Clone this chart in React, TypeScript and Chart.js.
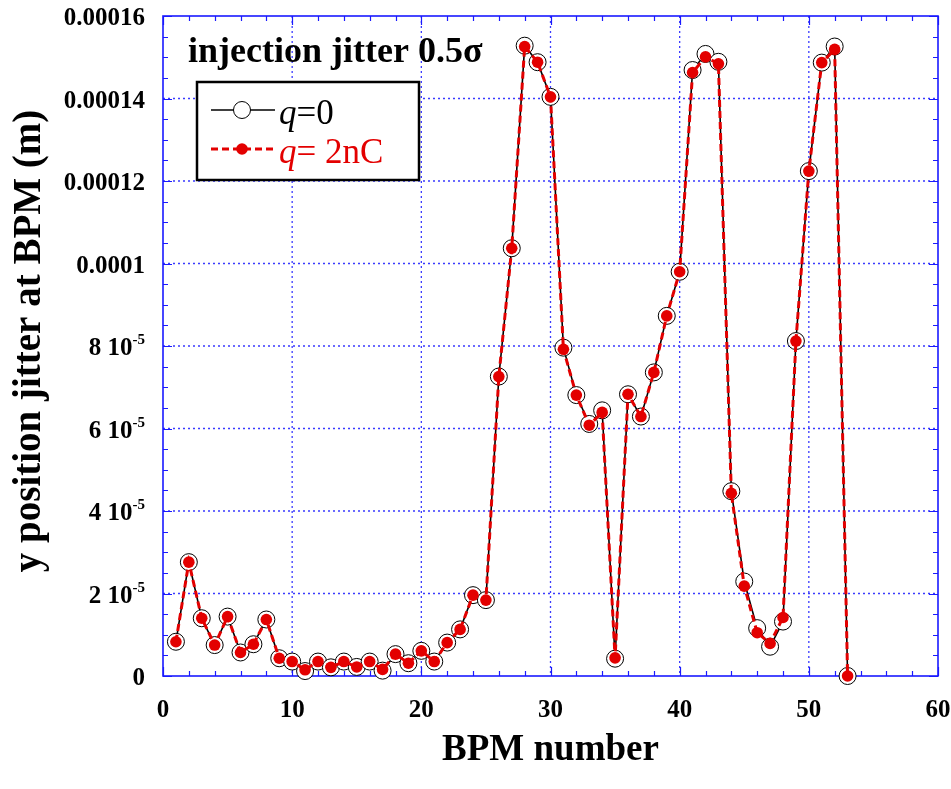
import React, { useEffect, useRef } from 'react';
import { Chart, registerables } from 'chart.js';
Chart.register(...registerables);

// BPM index
const bpm = [
  1, 2, 3, 4, 5, 6, 7, 8, 9, 10, 11, 12, 13, 14, 15, 16, 17, 18, 19, 20,
  21, 22, 23, 24, 25, 26, 27, 28, 29, 30, 31, 32, 33, 34, 35, 36, 37, 38, 39, 40,
  41, 42, 43, 44, 45, 46, 47, 48, 49, 50, 51, 52, 53,
];

// y position jitter (m), q = 0
const jitterQ0 = [
  0.83e-5, 2.76e-5, 1.40e-5, 0.75e-5, 1.44e-5, 0.57e-5, 0.77e-5, 1.37e-5, 0.43e-5, 0.35e-5,
  0.12e-5, 0.35e-5, 0.21e-5, 0.35e-5, 0.22e-5, 0.35e-5, 0.13e-5, 0.53e-5, 0.31e-5, 0.61e-5,
  0.35e-5, 0.81e-5, 1.13e-5, 1.96e-5, 1.84e-5, 7.26e-5, 10.37e-5, 15.28e-5, 14.88e-5, 14.04e-5,
  7.96e-5, 6.81e-5, 6.11e-5, 6.44e-5, 0.42e-5, 6.83e-5, 6.29e-5, 7.36e-5, 8.73e-5, 9.80e-5,
  14.69e-5, 15.08e-5, 14.89e-5, 4.48e-5, 2.29e-5, 1.16e-5, 0.71e-5, 1.32e-5, 8.12e-5, 12.24e-5,
  14.87e-5, 15.26e-5, 0.0,
];

// y position jitter (m), q = 2 nC
const jitterQ2 = [
  0.83e-5, 2.76e-5, 1.40e-5, 0.75e-5, 1.44e-5, 0.57e-5, 0.77e-5, 1.37e-5, 0.43e-5, 0.35e-5,
  0.15e-5, 0.35e-5, 0.21e-5, 0.35e-5, 0.22e-5, 0.35e-5, 0.16e-5, 0.53e-5, 0.31e-5, 0.61e-5,
  0.35e-5, 0.81e-5, 1.13e-5, 1.96e-5, 1.84e-5, 7.26e-5, 10.37e-5, 15.26e-5, 14.88e-5, 14.04e-5,
  7.92e-5, 6.81e-5, 6.08e-5, 6.39e-5, 0.44e-5, 6.83e-5, 6.29e-5, 7.36e-5, 8.73e-5, 9.80e-5,
  14.63e-5, 15.01e-5, 14.84e-5, 4.43e-5, 2.18e-5, 1.05e-5, 0.79e-5, 1.42e-5, 8.12e-5, 12.24e-5,
  14.87e-5, 15.19e-5, 0.0,
];

const xTickValues = [0, 10, 20, 30, 40, 50, 60];
const xTickLabels = ['0', '10', '20', '30', '40', '50', '60'];
const yTickValues = [0, 2e-5, 4e-5, 6e-5, 8e-5, 1e-4, 1.2e-4, 1.4e-4, 1.6e-4];
const yTickBase = ['0', '2 10', '4 10', '6 10', '8 10', '0.0001', '0.00012', '0.00014', '0.00016'];
const yTickSup = ['', '-5', '-5', '-5', '-5', '', '', '', ''];

const titleText = 'injection jitter 0.5σ';
const xTitle = 'BPM number';
const yTitle = 'y position jitter at BPM (m)';
const legendQ = ['q', 'q'];
const legendRest = ['=0', '= 2nC'];

const FONT = '"Liberation Serif", "Times New Roman", Times, serif';
const RED = '#e30000';
const BLUE = '#1a1aff';
const GRID = '#3a3aff';

export default function App() {
  const ref = useRef<HTMLCanvasElement>(null);

  useEffect(() => {
    const canvas = ref.current;
    if (!canvas) return;

    const decor = {
      id: 'decor',
      beforeDatasetsDraw(chart: any) {
        const { ctx, chartArea: a, scales } = chart;
        const x = scales.x;
        const y = scales.y;
        ctx.save();
        // dotted grid
        ctx.strokeStyle = GRID;
        ctx.lineWidth = 1.3;
        ctx.setLineDash([2, 3]);
        xTickValues.forEach((v) => {
          const px = x.getPixelForValue(v);
          if (px <= a.left + 1 || px >= a.right - 1) return;
          ctx.beginPath();
          ctx.moveTo(px, a.top);
          ctx.lineTo(px, a.bottom);
          ctx.stroke();
        });
        yTickValues.forEach((v) => {
          const py = y.getPixelForValue(v);
          if (py <= a.top + 1 || py >= a.bottom - 1) return;
          ctx.beginPath();
          ctx.moveTo(a.left, py);
          ctx.lineTo(a.right, py);
          ctx.stroke();
        });
        ctx.setLineDash([]);
        // inward ticks on all four sides
        ctx.strokeStyle = BLUE;
        ctx.lineWidth = 1.2;
        for (let v = 0; v <= 60; v += 2) {
          const px = Math.round(x.getPixelForValue(v)) + 0.5;
          const len = v % 10 === 0 ? 9 : 5;
          ctx.beginPath();
          ctx.moveTo(px, a.bottom);
          ctx.lineTo(px, a.bottom - len);
          ctx.moveTo(px, a.top);
          ctx.lineTo(px, a.top + len);
          ctx.stroke();
        }
        for (let k = 0; k <= 32; k++) {
          const py = Math.round(y.getPixelForValue(k * 0.5e-5)) + 0.5;
          const len = k % 4 === 0 ? 9 : 5;
          ctx.beginPath();
          ctx.moveTo(a.left, py);
          ctx.lineTo(a.left + len, py);
          ctx.moveTo(a.right, py);
          ctx.lineTo(a.right - len, py);
          ctx.stroke();
        }
        // frame
        ctx.lineWidth = 1.6;
        ctx.strokeRect(a.left, a.top, a.right - a.left, a.bottom - a.top);
        ctx.restore();
      },
      afterDraw(chart: any) {
        const { ctx, chartArea: a, scales } = chart;
        const x = scales.x;
        const y = scales.y;
        ctx.save();
        ctx.fillStyle = '#000';
        // x tick labels
        ctx.font = `bold 25px ${FONT}`;
        ctx.textAlign = 'center';
        ctx.textBaseline = 'middle';
        xTickValues.forEach((v, i) => {
          ctx.fillText(xTickLabels[i], x.getPixelForValue(v), a.bottom + 35);
        });
        // y tick labels with superscripts
        ctx.textBaseline = 'alphabetic';
        ctx.textAlign = 'left';
        const rightEdge = 145;
        yTickValues.forEach((v, i) => {
          const py = y.getPixelForValue(v);
          ctx.font = `bold 15px ${FONT}`;
          const supW = yTickSup[i] ? ctx.measureText(yTickSup[i]).width : 0;
          ctx.font = `bold 25px ${FONT}`;
          const baseW = ctx.measureText(yTickBase[i]).width;
          const startX = rightEdge - supW - baseW;
          ctx.fillText(yTickBase[i], startX, py + 9);
          if (yTickSup[i]) {
            ctx.font = `bold 15px ${FONT}`;
            ctx.fillText(yTickSup[i], startX + baseW, py - 2);
          }
        });
        // axis titles
        ctx.font = `bold 37px ${FONT}`;
        ctx.textAlign = 'center';
        ctx.fillText(xTitle, (a.left + a.right) / 2, 760);
        ctx.save();
        ctx.font = `bold 39px ${FONT}`;
        ctx.translate(40, 341);
        ctx.rotate(-Math.PI / 2);
        ctx.fillText(yTitle, 0, 0);
        ctx.restore();
        // inner title
        ctx.textAlign = 'left';
        ctx.font = `bold 36px ${FONT}`;
        ctx.fillText(titleText, 188, 62);

        // legend box
        const lx = 197, ly = 82, lw = 222, lh = 98;
        ctx.fillStyle = '#fff';
        ctx.fillRect(lx, ly, lw, lh);
        ctx.strokeStyle = '#000';
        ctx.lineWidth = 2.5;
        ctx.strokeRect(lx, ly, lw, lh);
        const ds = chart.data.datasets;
        const rows = [110, 149];
        ds.forEach((d: any, i: number) => {
          const ry = rows[i];
          ctx.save();
          ctx.strokeStyle = d.borderColor;
          ctx.lineWidth = d.borderWidth;
          ctx.setLineDash(d.borderDash || []);
          ctx.beginPath();
          ctx.moveTo(211, ry);
          ctx.lineTo(275, ry);
          ctx.stroke();
          ctx.setLineDash([]);
          ctx.beginPath();
          ctx.arc(242, ry, d.pointRadius, 0, Math.PI * 2);
          ctx.fillStyle = d.pointBackgroundColor;
          ctx.fill();
          if (d.pointBorderWidth > 0) {
            ctx.lineWidth = d.pointBorderWidth;
            ctx.strokeStyle = d.pointBorderColor;
            ctx.stroke();
          }
          ctx.restore();
          const color = i === 0 ? '#000' : RED;
          ctx.fillStyle = color;
          ctx.textAlign = 'left';
          ctx.font = `italic 35px ${FONT}`;
          const qW = ctx.measureText(legendQ[i]).width;
          ctx.fillText(legendQ[i], 279, ry + 14);
          ctx.font = `35px ${FONT}`;
          ctx.fillText(legendRest[i], 279 + qW, ry + 14);
        });
        ctx.restore();
      },
    };

    const chart = new Chart(canvas, {
      type: 'line',
      data: {
        datasets: [
          {
            label: 'q=0',
            data: bpm.map((b, i) => ({ x: b, y: jitterQ0[i] })),
            borderColor: '#000',
            borderWidth: 1.6,
            pointRadius: 8.5,
            pointBorderWidth: 1,
            pointBackgroundColor: '#fff',
            pointBorderColor: '#000',
            tension: 0,
            order: 2,
            clip: false,
          } as any,
          {
            label: 'q= 2nC',
            data: bpm.map((b, i) => ({ x: b, y: jitterQ2[i] })),
            borderColor: RED,
            borderWidth: 3,
            borderDash: [7, 4],
            pointRadius: 5.8,
            pointBorderWidth: 0,
            pointBackgroundColor: RED,
            pointBorderColor: RED,
            tension: 0,
            order: 1,
            clip: false,
          } as any,
        ],
      },
      options: {
        animation: false,
        responsive: false,
        devicePixelRatio: 1,
        events: [],
        layout: { padding: { left: 163, top: 16, right: 13, bottom: 113 } },
        plugins: { legend: { display: false }, tooltip: { enabled: false }, title: { display: false } },
        scales: {
          x: { type: 'linear', display: false, min: 0, max: 60, ticks: { stepSize: 10 } },
          y: { type: 'linear', display: false, min: 0, max: 0.00016, ticks: { stepSize: 0.00002 } },
        },
      },
      plugins: [decor],
    });
    return () => chart.destroy();
  }, []);

  return (
    <div style={{ position: 'absolute', left: 0, top: 0, width: 951, height: 789, background: '#fff' }}>
      <canvas ref={ref} width={951} height={789} />
    </div>
  );
}
